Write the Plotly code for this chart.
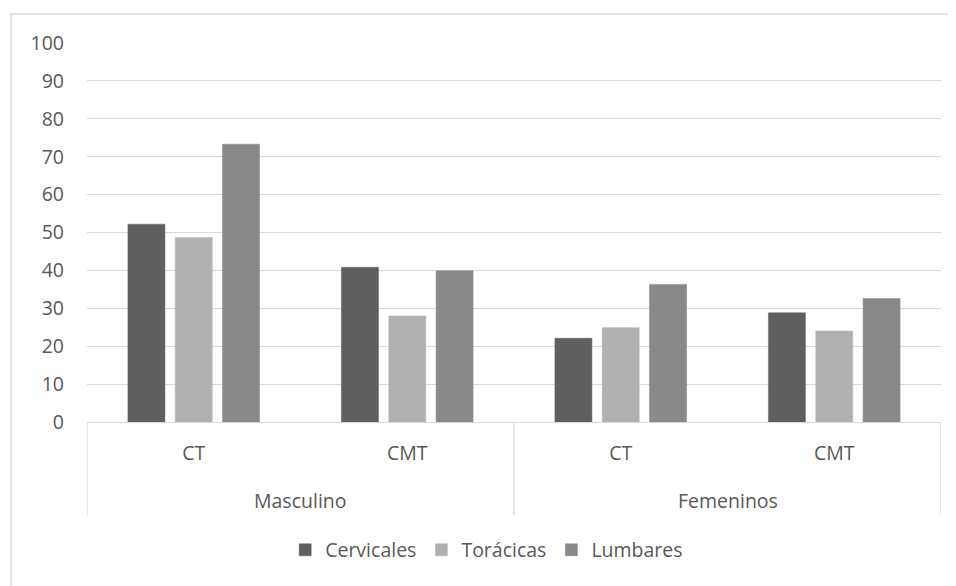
import plotly.graph_objects as go

sexo = ["Masculino", "Masculino", "Femeninos", "Femeninos"]
grupo = ["CT", "CMT", "CT", "CMT"]
sexo_labels = ["Masculino", "Femeninos"]
series_names = ["Cervicales", "Torácicas", "Lumbares"]
cervicales = [52.2, 40.8, 22.1, 28.8]
toracicas = [48.7, 28.0, 24.9, 24.0]
lumbares = [73.3, 39.9, 36.3, 32.6]
y_ticks = [0, 10, 20, 30, 40, 50, 60, 70, 80, 90, 100]

colors = ["#5f5f5f", "#b0b0b0", "#898989"]
values = [cervicales, toracicas, lumbares]

FONT = "Open Sans"
TXT = "#595959"
GRID = "#d9d9d9"
FS = 19.5

keys = [f"{s} {g}" for s, g in zip(sexo, grupo)]

fig = go.Figure()
for name, vals, c in zip(series_names, values, colors):
    fig.add_trace(go.Bar(
        x=keys, y=vals, name=name,
        marker=dict(color=c, line=dict(color=c, width=0.5)),
    ))

PLOT_H = 379  # plot area height in px
# the page body adds an 8px margin, so the figure is offset by 8px
fig.update_layout(
    width=948, height=578,
    margin=dict(l=79, r=15, t=35, b=164),
    paper_bgcolor="white", plot_bgcolor="white",
    barmode="group", bargap=0.335, bargroupgap=0.218,
    font=dict(family=FONT, size=FS, color=TXT),
    showlegend=True,
    legend=dict(orientation="h", x=0.468, xanchor="center", y=-0.338, yanchor="middle",
                font=dict(family=FONT, size=FS, color=TXT), itemwidth=30,
                traceorder="normal"),
    xaxis=dict(type="category", categoryorder="array", categoryarray=keys,
               tickvals=keys, ticktext=grupo, range=[-0.5, len(keys) - 0.5],
               showline=True, linecolor=GRID, linewidth=1,
               ticks="", ticklabelstandoff=14,
               tickfont=dict(family=FONT, size=FS, color=TXT), showgrid=False),
    yaxis=dict(range=[0, 100], tickvals=y_ticks, showgrid=True, gridcolor=GRID,
               gridwidth=1, zeroline=False, showline=False, ticks="",
               ticklabelstandoff=22,
               tickfont=dict(family=FONT, size=FS, color=TXT)),
)

# outer category labels and dividers (two-level category axis)
n_per = len(keys) // len(sexo_labels)
for i, lab in enumerate(sexo_labels):
    fig.add_annotation(x=i * n_per + (n_per - 1) / 2, xref="x", y=-78 / PLOT_H, yref="paper",
                       text=lab, showarrow=False, yanchor="middle",
                       font=dict(family=FONT, size=FS, color=TXT))
for i in range(len(sexo_labels) + 1):
    fig.add_shape(type="line", xref="x", yref="paper",
                  x0=i * n_per - 0.5, x1=i * n_per - 0.5, y0=0, y1=-93 / PLOT_H,
                  line=dict(color=GRID, width=1.2))

# chart area border (Excel-style)
fig.add_shape(type="rect", xref="paper", yref="paper",
              x0=(11 - 87) / 854, x1=(980 - 87) / 854,
              y0=(422 - 600) / PLOT_H, y1=(422 - 14) / PLOT_H,
              line=dict(color=GRID, width=1.5), fillcolor="rgba(0,0,0,0)", layer="below")

fig.write_html("out.html")
